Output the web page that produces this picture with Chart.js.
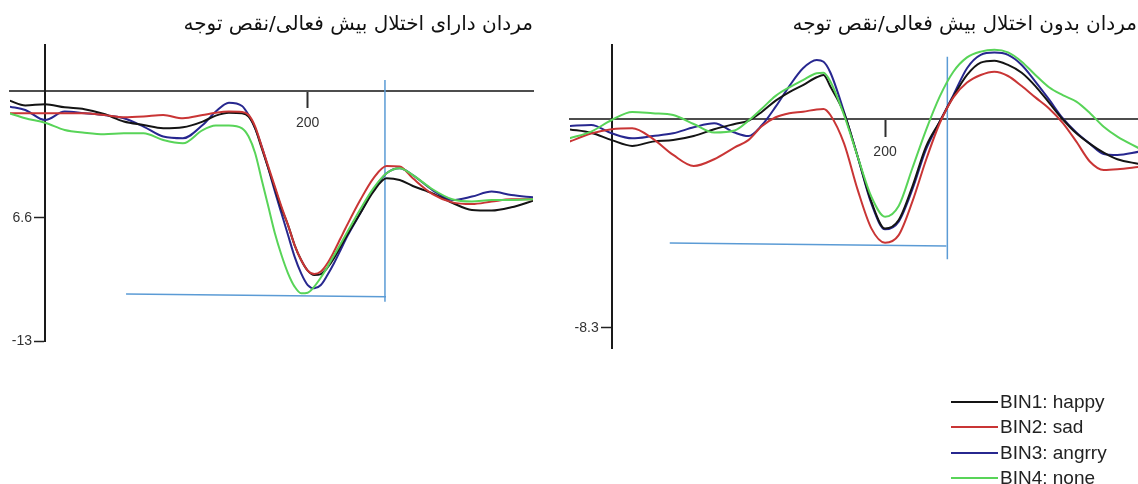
<!DOCTYPE html>
<html lang="fa">
<head>
<meta charset="utf-8">
<title>ERP</title>
<script src="https://cdn.jsdelivr.net/npm/chart.js@4.4.1/dist/chart.umd.min.js"></script>
<style>
  html, body { margin: 0; padding: 0; background: #fff; }
  #page { position: relative; width: 1138px; height: 484px; overflow: hidden; background: #fff; }
  #page canvas { position: absolute; top: 0; }
  .panel-title {
    position: absolute; top: 9px; direction: rtl; text-align: right; white-space: nowrap;
    font-family: 'DejaVu Sans', sans-serif; font-size: 20px; line-height: 28px; color: #111;
  }
  #legend { position: absolute; left: 951px; top: 389px; font-family: 'Liberation Sans', Arial, sans-serif; font-size: 19px; color: #222; }
  #legend .row { position: relative; height: 25.3px; line-height: 25.3px; white-space: nowrap; }
  #legend .swatch { display: inline-block; width: 47px; height: 2px; vertical-align: middle; margin-right: 2px; position: relative; top: -1px; }
</style>
</head>
<body>
<div id="page">
  <canvas id="leftChart" width="560" height="400" style="left:0"></canvas>
  <canvas id="rightChart" width="578" height="400" style="left:560px"></canvas>
  <div class="panel-title" style="right:605px">مردان دارای اختلال بیش فعالی/نقص توجه</div>
  <div class="panel-title" style="right:1px">مردان بدون اختلال بیش فعالی/نقص توجه</div>
  <div id="legend"></div>
</div>
<script>
// Series names and colours (shared by both panels and the legend)
const seriesNames = ['BIN1: happy', 'BIN2: sad', 'BIN3: angrry', 'BIN4: none'];
const seriesColors = ['#141414', '#c93535', '#27278f', '#58d458'];

// ---- Left panel: men with ADHD (time in ms, amplitude in µV) ----
const leftTimes = [-27, -15, 0, 15, 30, 45, 60, 75, 90, 105, 120, 130, 140, 150, 155, 160, 165, 170, 175, 180,
  185, 190, 195, 200, 205, 210, 215, 220, 225, 230, 240, 250, 260, 270, 280, 295, 310, 325, 340, 355, 372];
const leftHappy = [-0.50, -0.75, -0.69, -0.85, -0.95, -1.20, -1.59, -1.77, -1.94, -1.89, -1.59, -1.28, -1.13, -1.16, -1.33, -1.94, -2.98, -4.02, -5.06, -6.10,
  -6.97, -8.01, -8.79, -9.34, -9.57, -9.52, -9.19, -8.70, -8.09, -7.49, -6.36, -5.23, -4.54, -4.63, -4.94, -5.32, -5.81, -6.19, -6.22, -6.05, -5.70];
const leftSad = [-1.16, -1.16, -1.16, -1.16, -1.16, -1.25, -1.37, -1.33, -1.25, -1.42, -1.25, -1.13, -1.07, -1.09, -1.25, -1.85, -2.89, -3.93, -4.97, -6.01,
  -6.97, -8.01, -8.79, -9.34, -9.52, -9.39, -8.96, -8.35, -7.66, -6.97, -5.67, -4.54, -3.90, -3.93, -4.54, -5.36, -5.79, -5.88, -5.75, -5.63, -5.63];
const leftAngry = [-0.81, -0.99, -1.51, -1.07, -1.16, -1.25, -1.42, -1.85, -2.37, -2.46, -1.77, -1.07, -0.61, -0.78, -1.25, -1.94, -2.89, -4.02, -5.23, -6.36,
  -7.49, -8.61, -9.48, -10.09, -10.26, -10.09, -9.57, -8.96, -8.27, -7.57, -6.36, -5.15, -4.28, -4.02, -4.37, -5.15, -5.67, -5.49, -5.23, -5.41, -5.53];
const leftNone = [-1.16, -1.42, -1.65, -2.03, -2.17, -2.25, -2.20, -2.20, -2.55, -2.72, -2.03, -1.80, -1.79, -1.94, -2.37, -3.24, -4.63, -6.01, -7.40, -8.53,
  -9.48, -10.17, -10.52, -10.49, -10.17, -9.70, -9.15, -8.55, -7.95, -7.35, -6.15, -5.06, -4.28, -4.02, -4.37, -5.11, -5.63, -5.75, -5.67, -5.67, -5.63];
const leftXTicks = [200];
const leftYTicks = [-6.6, -13];
const leftYLabels = ['6.6', '-13'];
// peak-latency / amplitude guide lines
const leftGuideV = { x: [258.8, 258.8], y: [0.57, -10.96] };
const leftGuideH = { x: [61.7, 259.6], y: [-10.56, -10.70] };

// ---- Right panel: men without ADHD ----
const rightTimes = [-31, -15, 0, 15, 30, 45, 60, 75, 90, 100, 110, 120, 130, 140, 150, 155, 160, 170, 180, 190,
  200, 210, 220, 230, 240, 250, 260, 270, 280, 290, 300, 310, 320, 330, 340, 350, 360, 370, 386];
const rightHappy = [-0.41, -0.55, -0.84, -1.07, -0.90, -0.84, -0.68, -0.41, -0.20, -0.07, 0.29, 0.73, 1.07, 1.35, 1.66, 1.75, 1.29, 0.23, -1.50, -3.29,
  -4.36, -4.02, -2.69, -1.10, -0.11, 0.89, 1.75, 2.24, 2.32, 2.15, 1.84, 1.31, 0.65, -0.01, -0.57, -0.99, -1.34, -1.60, -1.79];
const rightSad = [-0.90, -0.58, -0.41, -0.37, -0.78, -1.43, -1.87, -1.60, -1.13, -0.84, -0.28, 0.07, 0.23, 0.29, 0.38, 0.40, 0.16, -0.97, -2.82, -4.35,
  -4.92, -4.62, -3.29, -1.63, -0.17, 0.86, 1.45, 1.75, 1.88, 1.71, 1.31, 0.86, 0.42, -0.15, -0.90, -1.70, -2.03, -2.00, -1.90];
const rightAngry = [-0.28, -0.24, -0.57, -0.77, -0.68, -0.57, -0.33, -0.17, -0.54, -0.68, -0.24, 0.49, 1.31, 2.02, 2.35, 2.28, 1.85, 0.29, -1.50, -3.36,
  -4.39, -4.08, -2.80, -1.21, -0.11, 0.95, 2.02, 2.55, 2.64, 2.55, 2.15, 1.49, 0.78, 0.03, -0.54, -0.99, -1.39, -1.43, -1.30];
const rightNone = [-0.77, -0.50, -0.04, 0.28, 0.23, 0.16, -0.20, -0.54, -0.46, -0.07, 0.42, 0.92, 1.26, 1.55, 1.82, 1.84, 1.49, 0.16, -1.50, -3.09,
  -3.89, -3.46, -1.96, -0.44, 0.89, 1.88, 2.45, 2.68, 2.75, 2.65, 2.28, 1.75, 1.26, 0.95, 0.69, 0.23, -0.31, -0.70, -1.17];
const rightXTicks = [200];
const rightYTicks = [-8.3];
const rightYLabels = ['-8.3'];
const rightGuideV = { x: [245.6, 245.6], y: [2.48, -5.58] };
const rightGuideH = { x: [42.5, 244.9], y: [-4.93, -5.05] };

Chart.defaults.font.family = "'Liberation Sans', Arial, sans-serif";

// Y tick labels sit to the left of the tick marks of the axis drawn at x = 0
const yTickLabels = {
  id: 'yTickLabels',
  afterDraw(chart, args, opts) {
    const { ctx, scales } = chart;
    const xAxisPx = scales.x.getPixelForValue(0);
    ctx.save();
    ctx.font = "14px 'Liberation Sans', Arial, sans-serif";
    ctx.fillStyle = '#333';
    ctx.textAlign = 'right';
    ctx.textBaseline = 'middle';
    opts.values.forEach((v, i) => {
      ctx.fillText(opts.labels[i], xAxisPx - opts.offset, scales.y.getPixelForValue(v));
    });
    ctx.restore();
  }
};

function toPoints(xs, ys) { return xs.map((x, i) => ({ x: x, y: ys[i] })); }

function waveDatasets(times, series) {
  // drawing order: none, sad, happy, angry (angry on top)
  const order = [3, 1, 0, 2];
  return order.map(k => ({
    label: seriesNames[k],
    data: toPoints(times, series[k]),
    borderColor: seriesColors[k],
    borderWidth: 2,
    pointRadius: 0,
    fill: false,
    cubicInterpolationMode: 'monotone'
  }));
}

function guideDataset(g) {
  return { label: 'guide', data: toPoints(g.x, g.y), borderColor: '#5b9bd5', borderWidth: 1.5, pointRadius: 0, fill: false, tension: 0 };
}

function buildPanel(id, p) {
  return new Chart(document.getElementById(id), {
    type: 'line',
    data: { datasets: waveDatasets(p.times, p.series).concat([guideDataset(p.guideV), guideDataset(p.guideH)]) },
    plugins: [yTickLabels],
    options: {
      responsive: false,
      animation: false,
      devicePixelRatio: 1,
      events: [],
      layout: { padding: p.padding },
      plugins: {
        legend: { display: false },
        tooltip: { enabled: false },
        yTickLabels: { values: p.yTicks, labels: p.yLabels, offset: 13 }
      },
      scales: {
        x: {
          type: 'linear', min: p.xMin, max: p.xMax, position: { y: 0 },
          afterBuildTicks: s => { s.ticks = p.xTicks.map(v => ({ value: v })); },
          border: { display: true, color: '#4d4d4d', width: 2 },
          grid: { display: true, drawOnChartArea: false, drawTicks: true, tickLength: p.xTickLen, tickWidth: 2, tickColor: '#2e2e2e' },
          ticks: { color: '#333', font: { size: 14 }, padding: 8, maxRotation: 0, autoSkip: false, callback: v => String(v) }
        },
        y: {
          type: 'linear', min: p.yMin, max: p.yMax, position: { x: 0 },
          afterBuildTicks: s => { s.ticks = p.yTicks.map(v => ({ value: v })); },
          border: { display: true, color: '#1a1a1a', width: 2 },
          grid: { display: true, drawOnChartArea: false, drawTicks: true, tickLength: 10, tickWidth: 1.5, tickColor: '#222' },
          ticks: { display: false }
        }
      }
    }
  });
}

buildPanel('leftChart', {
  times: leftTimes, series: [leftHappy, leftSad, leftAngry, leftNone],
  guideV: leftGuideV, guideH: leftGuideH,
  xMin: -26.65, xMax: 371.5, yMin: -13, yMax: 2.392,
  xTicks: leftXTicks, yTicks: leftYTicks, yLabels: leftYLabels, xTickLen: 16,
  padding: { left: 10, top: 45, right: 27, bottom: 59 }
});

buildPanel('rightChart', {
  times: rightTimes, series: [rightHappy, rightSad, rightAngry, rightNone],
  guideV: rightGuideV, guideH: rightGuideH,
  xMin: -30.5, xMax: 385.1, yMin: -9.109, yMax: 2.943,
  xTicks: rightXTicks, yTicks: rightYTicks, yLabels: rightYLabels, xTickLen: 17,
  padding: { left: 10, top: 45, right: 0, bottom: 52 }
});

// Legend
const legend = document.getElementById('legend');
seriesNames.forEach((name, i) => {
  const row = document.createElement('div');
  row.className = 'row';
  const sw = document.createElement('span');
  sw.className = 'swatch';
  sw.style.background = seriesColors[i];
  row.appendChild(sw);
  row.appendChild(document.createTextNode(name));
  legend.appendChild(row);
});
</script>
</body>
</html>
